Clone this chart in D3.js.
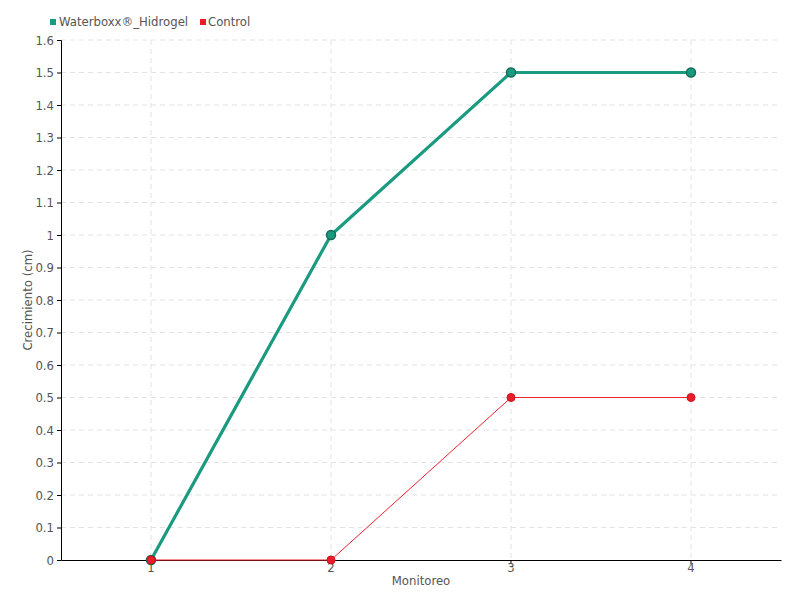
<!DOCTYPE html>
<html>
<head>
<meta charset="utf-8">
<script src="https://cdn.jsdelivr.net/npm/d3@7"></script>
<style>
  body { margin: 0; background: #fff; }
  text { font-family: "DejaVu Sans Condensed", "Liberation Sans Narrow", sans-serif; fill: #555; }
</style>
</head>
<body>
<div id="chart"></div>
<script>
// data
var monitoreo = ["1", "2", "3", "4"];
var waterboxx = [0, 1, 1.5, 1.5];
var control = [0, 0, 0.5, 0.5];
var yTicks = [0, 0.1, 0.2, 0.3, 0.4, 0.5, 0.6, 0.7, 0.8, 0.9, 1, 1.1, 1.2, 1.3, 1.4, 1.5, 1.6];

var margin = {top: 40, right: 19, bottom: 40, left: 61},
    width = 800 - margin.left - margin.right,
    height = 600 - margin.top - margin.bottom;

var svg = d3.select("#chart")
  .append("svg")
    .attr("width", 800)
    .attr("height", 600)
  .append("g")
    .attr("transform", "translate(" + margin.left + "," + margin.top + ")");

var x = d3.scaleBand().domain(monitoreo).range([0, width]);
var y = d3.scaleLinear().domain([0, 1.6]).range([height, 0]);
var cx = function(d, i) { return x(monitoreo[i]) + x.bandwidth() / 2; };

// grid
svg.append("g").selectAll("line")
  .data(yTicks.slice(1))
  .enter().append("line")
    .attr("x1", 0).attr("x2", width)
    .attr("y1", function(d) { return y(d); })
    .attr("y2", function(d) { return y(d); })
    .attr("stroke", "#e3e3e3")
    .attr("stroke-dasharray", "5,4");
svg.append("g").selectAll("line")
  .data(monitoreo)
  .enter().append("line")
    .attr("x1", function(d) { return x(d) + x.bandwidth() / 2; })
    .attr("x2", function(d) { return x(d) + x.bandwidth() / 2; })
    .attr("y1", 0).attr("y2", height)
    .attr("stroke", "#e3e3e3")
    .attr("stroke-dasharray", "5,4");

// axes
var yAxis = svg.append("g")
  .call(d3.axisLeft(y).tickValues(yTicks).tickSize(4).tickFormat(function(d) { return d3.format("")(+d.toFixed(1)); }));
yAxis.select(".domain").attr("stroke", "#000");
yAxis.selectAll(".tick line").attr("stroke", "#000");
yAxis.selectAll("text").attr("font-size", 13).attr("fill", "#555")
  .style("font-family", "DejaVu Sans Condensed, sans-serif");

var xAxis = svg.append("g")
  .attr("transform", "translate(0," + height + ")")
  .call(d3.axisBottom(x).tickSize(4).tickSizeOuter(0));
xAxis.select(".domain").attr("stroke", "#000");
xAxis.selectAll(".tick line").attr("stroke", "#000");
xAxis.selectAll("text").attr("font-size", 13).attr("fill", "#555").attr("dy", "0.4em")
  .style("font-family", "DejaVu Sans Condensed, sans-serif");

// axis titles
svg.append("text")
  .attr("x", width / 2).attr("y", height + 25)
  .attr("text-anchor", "middle")
  .attr("font-size", 13)
  .text("Monitoreo");
svg.append("text")
  .attr("transform", "rotate(-90)")
  .attr("x", -height / 2).attr("y", -29)
  .attr("text-anchor", "middle")
  .attr("font-size", 13)
  .text("Crecimiento (cm)");

// lines
var line = d3.line().x(cx).y(function(d) { return y(d); });

svg.append("path")
  .datum(waterboxx)
  .attr("fill", "none")
  .attr("stroke", "#1a9a7e")
  .attr("stroke-width", 3.2)
  .attr("d", line);
svg.selectAll(".pw")
  .data(waterboxx)
  .enter().append("circle")
    .attr("class", "pw")
    .attr("cx", cx)
    .attr("cy", function(d) { return y(d); })
    .attr("r", 4.5)
    .attr("fill", "#1a9a7e")
    .attr("stroke", "#136d59")
    .attr("stroke-width", 1.5);

svg.append("path")
  .datum(control)
  .attr("fill", "none")
  .attr("stroke", "#f0202f")
  .attr("stroke-width", 1)
  .attr("d", line);
svg.selectAll(".pc")
  .data(control)
  .enter().append("circle")
    .attr("class", "pc")
    .attr("cx", cx)
    .attr("cy", function(d) { return y(d); })
    .attr("r", 4)
    .attr("fill", "#ee1c2b")
    .attr("stroke", "#c8141f")
    .attr("stroke-width", 1);

// legend
var root = d3.select("svg");
root.append("rect").attr("x", 50).attr("y", 19).attr("width", 6).attr("height", 6).attr("fill", "#1a9a7e");
root.append("text").attr("x", 59).attr("y", 26).attr("font-size", 13).text("Waterboxx®_Hidrogel");
root.append("rect").attr("x", 200).attr("y", 19).attr("width", 6).attr("height", 6).attr("fill", "#ee1c2b");
root.append("text").attr("x", 208).attr("y", 26).attr("font-size", 13).text("Control");
</script>
</body>
</html>
